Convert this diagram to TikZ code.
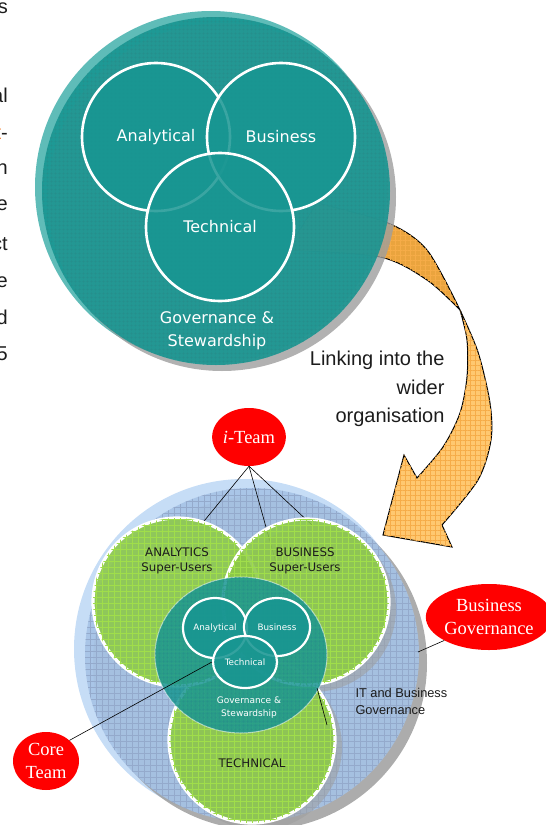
\documentclass[tikz,border=0pt]{standalone}
\usepackage{fontspec}
\setmainfont{Liberation Serif}
\setsansfont{Liberation Sans}
\newfontfamily\labelfont{DejaVu Sans}
\usetikzlibrary{shapes.geometric,patterns.meta}

\definecolor{tealfill}{RGB}{24,150,146}
\definecolor{tealhalo}{RGB}{95,188,184}
\definecolor{tealgrid}{RGB}{40,138,136}
\definecolor{shadowgray}{RGB}{158,158,158}
\definecolor{leafgreen}{RGB}{140,200,72}
\definecolor{limegrid}{RGB}{160,222,74}
\definecolor{skyblue}{RGB}{166,195,230}
\definecolor{skyhalo}{RGB}{198,221,246}
\definecolor{bluegrid}{RGB}{148,170,204}
\definecolor{arrowlight}{RGB}{255,200,112}
\definecolor{arrowdark}{RGB}{234,164,62}
\definecolor{orangegrid}{RGB}{246,172,72}
\definecolor{bodytext}{RGB}{28,28,28}
\definecolor{linkorange}{RGB}{242,122,40}

\begin{document}
\begin{tikzpicture}[x=1pt,y=-1pt,
    tealgridded/.style={postaction={pattern={Hatch[distance=4pt,line width=.3pt]}, pattern color=tealgrid}},
    greengridded/.style={postaction={pattern={Hatch[distance=6pt,line width=.45pt]}, pattern color=limegrid}},
    bluegridded/.style={postaction={pattern={Hatch[distance=6pt,line width=.4pt]}, pattern color=bluegrid}},
    orangegridded/.style={postaction={pattern={Hatch[distance=5pt,line width=.35pt]}, pattern color=orangegrid}},
    bigring/.style={circle, draw=white, line width=2.6pt, fill=tealfill, fill opacity=.85,
      text opacity=1, text=white, font=\labelfont\fontsize{16}{18}\selectfont},
    smallring/.style={ellipse, draw=white, line width=2.2pt, fill=tealfill, fill opacity=.88,
      text opacity=1, text=white, inner sep=0pt, font=\labelfont\fontsize{8.8}{10}\selectfont},
    greenring/.style={fill=leafgreen, fill opacity=.88, draw=white, line width=3.2pt, greengridded},
    greenlbl/.style={align=center, text=bodytext, font=\labelfont\fontsize{11.8}{14.5}\selectfont},
    redtag/.style={ellipse, fill=red, text=white, inner sep=0pt, align=center,
      font=\fontsize{18.5}{22.5}\selectfont},
    leader/.style={draw=black, line width=.6pt}]

\useasboundingbox (0,0) rectangle (546,825);

% body text cut off at the left margin
\foreach \word/\base [count=\i] in {s/13,al/102,{{\color{linkorange}t}-}/139,n/174,e/210,ct/250,e/287,d/324,5/360}
  \node[anchor=base east, inner sep=0pt, text=bodytext, font=\sffamily\fontsize{20}{24}\selectfont] (frag\i) at (8,\base) {\word};

% ---- upper circle: halo first, the arrow runs under the teal disc
\fill[tealhalo] (211,187) circle (176pt);

% twisted arrow, back half then front half with the head
\draw[fill=arrowdark, line width=1pt, orangegridded] plot[smooth] coordinates {(317,203) (388,223) (427,250) (460,310)}
  -- plot[smooth] coordinates {(460,310) (427,280) (380,257) (287,250)} -- cycle;
\draw[fill=arrowlight, line width=1pt, line join=miter, orangegridded]
  plot[smooth] coordinates {(460,310) (478,352) (490,403) (491,440) (478,480) (442,525)}
  -- (452,547) -- (383,535) -- (404,455) -- (417,478)
  -- plot[smooth] coordinates {(417,478) (443,447) (460,413) (467,377) (467,340) (460,310)} -- cycle;

\fill[shadowgray, opacity=.8] (222,197) circle (174pt);
\coordinate (topgov) at (216,191);
\fill[tealfill, fill opacity=.9, tealgridded] (topgov) circle (174pt);

\node[bigring, minimum size=148pt] (analytical) at (156,137) {Analytical};
\node[bigring, minimum size=148pt] (business) at (281,137) {Business};
\node[bigring, minimum size=148pt] (technical) at (220,227) {Technical};
\node[align=center, text=white, font=\labelfont\fontsize{16}{23}\selectfont] (govlbl) at (217,331)
  {Governance \&\\Stewardship};

\node[anchor=east, align=right, text=bodytext, font=\sffamily\fontsize{20}{28.5}\selectfont] (linking)
  at (448,389) {Linking into the\\wider\\organisation};

% ---- lower circle
\fill[skyhalo] (244,649) circle (170pt);
\fill[shadowgray, opacity=.85] (260,663) circle (167pt);
\fill[skyblue, fill opacity=.9, bluegridded] (252,655) circle (167pt);

\node[redtag, minimum width=66pt, minimum height=58pt] (iteam) at (249,437) {\textit{i}-Team};
\coordinate (anatop) at (200,526);
\coordinate (coretop) at (283,588);
\coordinate (bustop) at (312,525);
\draw[leader] (iteam.south) -- (anatop);
\draw[leader] (iteam.south) -- (coretop);
\draw[leader] (iteam.south) -- (bustop);

% super-user circles with their shadows
\fill[shadowgray, opacity=.55] (259,747) circle (83pt);
\fill[shadowgray, opacity=.55] (313,609) circle (83pt);
\draw[greenring] (252,740) circle (83pt);
\draw[greenring] (177,602) circle (84pt);
\draw[greenring] (306,602) circle (83pt);
\node[greenlbl] (analbl) at (177,561) {ANALYTICS\\Super-Users};
\node[greenlbl] (buslbl) at (305,561) {BUSINESS\\Super-Users};
\node[greenlbl] (techlbl) at (252,763) {TECHNICAL};

% core team in the middle
\draw[fill=tealfill, fill opacity=.85, draw=white, draw opacity=.55, line width=1pt, tealgridded]
  (241,655) ellipse [x radius=86pt, y radius=78pt];
\node[smallring, minimum width=64pt, minimum height=60pt] (smallana) at (215,628) {Analytical};
\node[smallring, minimum width=66pt, minimum height=58pt] (smallbus) at (277,627) {Business};
\node[smallring, minimum width=64pt, minimum height=52pt] (smalltech) at (245,662) {Technical};
\node[align=center, text=white, font=\labelfont\fontsize{9}{13}\selectfont] (corelbl) at (249,708)
  {Governance \&\\Stewardship};

\coordinate (gapa) at (317,688);
\coordinate (gapb) at (327,725);
\draw[leader] (gapa) -- (gapb);

\node[anchor=west, align=left, text=bodytext, font=\sffamily\fontsize{12.8}{17}\selectfont] (itbus)
  at (352,701) {IT and Business\\Governance};

% red call-outs
\node[redtag, minimum width=66pt, minimum height=58pt] (coreteam) at (46,761) {Core\\Team};
\node[redtag, minimum width=112pt, minimum height=66pt] (busgov) at (489,617) {Business\\Governance};
\coordinate (bluerim) at (418,652);
\draw[leader] (coreteam.north east) -- (smalltech.west);
\draw[leader] (busgov.south west) -- (bluerim);
\end{tikzpicture}
\end{document}
